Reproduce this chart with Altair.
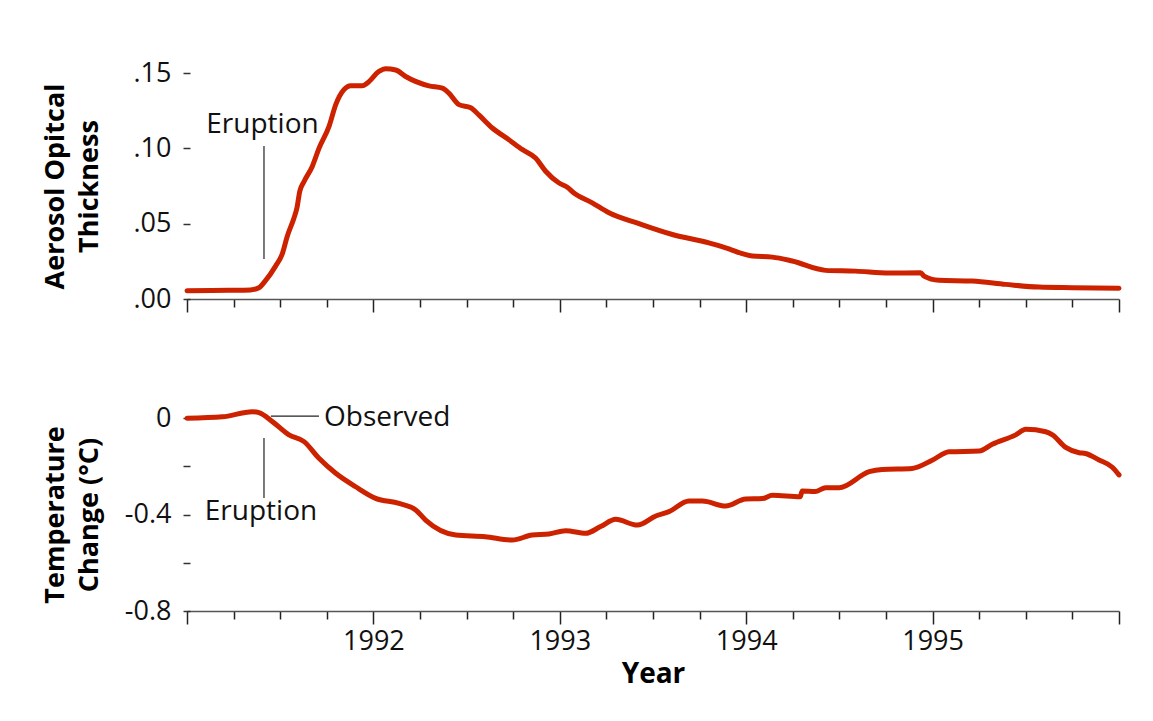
import json
import altair as alt
import pandas as pd

# ---------------- data ----------------
aod_year = [1991.0, 1991.22, 1991.34, 1991.386, 1991.42, 1991.476, 1991.51, 1991.538,
            1991.574, 1991.59, 1991.605, 1991.628, 1991.672, 1991.708, 1991.762, 1991.798,
            1991.842, 1991.878, 1991.94, 1991.967, 1992.03, 1992.066, 1992.12, 1992.173,
            1992.298, 1992.37, 1992.405, 1992.459, 1992.522, 1992.567, 1992.638, 1992.727,
            1992.8, 1992.87, 1992.924, 1992.996, 1993.04, 1993.076, 1993.174, 1993.264,
            1993.425, 1993.604, 1993.8, 1993.89, 1994.033, 1994.14, 1994.247, 1994.426,
            1994.587, 1994.766, 1994.936, 1994.954, 1995.034, 1995.213, 1995.392, 1995.571,
            1995.75, 1996.0]
aod_value = [0.0055, 0.0058, 0.006, 0.0075, 0.012, 0.022, 0.0296, 0.0417,
             0.0538, 0.0605, 0.0715, 0.078, 0.088, 0.100, 0.1146, 0.129,
             0.1389, 0.1415, 0.1415, 0.1433, 0.151, 0.1528, 0.152, 0.1477,
             0.1415, 0.140, 0.1366, 0.129, 0.127, 0.122, 0.1135, 0.1057,
             0.0991, 0.0936, 0.0848, 0.077, 0.0742, 0.0704, 0.0638, 0.0572,
             0.0500, 0.0428, 0.0373, 0.034, 0.0285, 0.0278, 0.0252, 0.019,
             0.0185, 0.0172, 0.0174, 0.0152, 0.0124, 0.0119, 0.0097, 0.0079,
             0.0075, 0.0071]

temp_year = [1991.0, 1991.19, 1991.35, 1991.386, 1991.458, 1991.547, 1991.628, 1991.708,
             1991.798, 1991.905, 1992.012, 1992.137, 1992.227, 1992.28, 1992.442, 1992.6,
             1992.745, 1992.852, 1992.942, 1993.031, 1993.139, 1993.219, 1993.3, 1993.416,
             1993.515, 1993.586, 1993.693, 1993.765, 1993.89, 1993.997, 1994.087, 1994.14,
             1994.29, 1994.3, 1994.37, 1994.426, 1994.498, 1994.66, 1994.73, 1994.89,
             1995.0, 1995.088, 1995.25, 1995.32, 1995.446, 1995.5, 1995.607, 1995.643,
             1995.714, 1995.786, 1995.82, 1995.893, 1995.964, 1996.0]
temp_value = [-0.001, 0.005, 0.026, 0.022, -0.015, -0.07, -0.098, -0.167,
              -0.229, -0.285, -0.333, -0.354, -0.381, -0.423, -0.485, -0.492,
              -0.506, -0.485, -0.481, -0.467, -0.478, -0.45, -0.42, -0.444,
              -0.406, -0.388, -0.344, -0.344, -0.365, -0.336, -0.334, -0.32,
              -0.326, -0.303, -0.305, -0.289, -0.289, -0.222, -0.213, -0.209,
              -0.174, -0.14, -0.137, -0.109, -0.07, -0.047, -0.057, -0.07,
              -0.122, -0.144, -0.147, -0.174, -0.204, -0.236]

aod_ticks = [0, 0.025, 0.05, 0.075, 0.1, 0.125, 0.15]
aod_labelled = [0, 0.05, 0.1, 0.15]
temp_ticks = [0, -0.2, -0.4, -0.6, -0.8]
temp_labelled = [0, -0.4, -0.8]
x_ticks = [1991 + 0.25 * i for i in range(21)]
x_labelled = [1992, 1993, 1994, 1995]

eruption_year = 1991.413
# annotation anchors (data coordinates)
top_rule = pd.DataFrame({"x": [eruption_year], "y": [0.0266], "y2": [0.1016]})
top_text = pd.DataFrame({"x": [1991.405], "y": [0.1104], "t": ["Eruption"]})
bot_vrule = pd.DataFrame({"x": [eruption_year], "y": [-0.083], "y2": [-0.332]})
bot_hrule = pd.DataFrame({"x": [1991.45], "x2": [1991.708], "y": [0.008]})
bot_text1 = pd.DataFrame({"x": [1991.397], "y": [-0.423], "t": ["Eruption"]})
bot_text2 = pd.DataFrame({"x": [1991.735], "y": [-0.033], "t": ["Observed"]})

aod_df = pd.DataFrame({"year": aod_year, "value": aod_value})
temp_df = pd.DataFrame({"year": temp_year, "value": temp_value})

RED = "#cc2200"
FONT = "Open Sans"
W = 932
H_TOP = 226
H_BOT = 193

xscale = alt.Scale(domain=[1991, 1996], nice=False, zero=False)
tick_cond = {"condition": {"test": "datum.value % 1 === 0", "value": 13}, "value": 8}


def x_axis(labels):
    common = dict(values=x_ticks, tickSize=tick_cond, tickColor="#222", tickWidth=1.5,
                  domainColor="#555", domainWidth=1.5, grid=False, labelOverlap=False,
                  labelFlush=False)
    if labels:
        return alt.Axis(labelExpr="indexof(%s, datum.value) >= 0 ? format(datum.value, 'd') : ''"
                        % json.dumps(x_labelled),
                        title="Year", titleFontWeight="bold", titleFontSize=28,
                        titlePadding=6, labelFontSize=27, labelPadding=4,
                        labelColor="#111", **common)
    return alt.Axis(labels=False, title=None, **common)


def y_axis(ticks, expr, title, height):
    return alt.Axis(values=ticks, labelExpr=expr, title=title, domain=False,
                    tickSize=7, offset=-3, tickColor="#333", tickWidth=1.5,
                    labelPadding=12, labelFontSize=27, labelColor="#111",
                    titleFontSize=27, titleFontWeight="bold", titleLineHeight=34,
                    titleX=-121, titleY=height / 2, grid=False, labelOverlap=False,
                    labelFlush=False)


aod_expr = ("indexof(%s, datum.value) >= 0 ? replace(format(datum.value, '.2f'), '0.', '.') : ''"
            % json.dumps(aod_labelled))
temp_expr = ("indexof(%s, datum.value) >= 0 ? replace(format(datum.value, '.1~f'), '\u2212', '-') : ''"
             % json.dumps(temp_labelled))

top_line = alt.Chart(aod_df).mark_line(
    color=RED, strokeWidth=5, interpolate="monotone", strokeCap="round", clip=False
).encode(
    x=alt.X("year:Q", scale=xscale, axis=x_axis(False)),
    y=alt.Y("value:Q", scale=alt.Scale(domain=[0, 0.15], nice=False),
            axis=y_axis(aod_ticks, aod_expr, ["Aerosol Opitcal", "Thickness"], H_TOP)),
)
top_r = alt.Chart(top_rule).mark_rule(color="#222", strokeWidth=1.2).encode(
    x="x:Q", y="y:Q", y2="y2:Q")
top_t = alt.Chart(top_text).mark_text(fontSize=28, font=FONT, baseline="alphabetic",
                                      align="center", color="#111").encode(
    x="x:Q", y="y:Q", text="t:N")
top = alt.layer(top_line, top_r, top_t).properties(width=W, height=H_TOP)

bot_line = alt.Chart(temp_df).mark_line(
    color=RED, strokeWidth=5, interpolate="monotone", strokeCap="round", clip=False
).encode(
    x=alt.X("year:Q", scale=xscale, axis=x_axis(True)),
    y=alt.Y("value:Q", scale=alt.Scale(domain=[-0.8, 0], nice=False, zero=False),
            axis=y_axis(temp_ticks, temp_expr, ["Temperature", "Change (\u00b0C)"], H_BOT)),
)
bot_vr = alt.Chart(bot_vrule).mark_rule(color="#222", strokeWidth=1.2).encode(
    x="x:Q", y="y:Q", y2="y2:Q")
bot_hr = alt.Chart(bot_hrule).mark_rule(color="#222", strokeWidth=1.2).encode(
    x="x:Q", x2="x2:Q", y="y:Q")
bot_t1 = alt.Chart(bot_text1).mark_text(fontSize=28, font=FONT, baseline="alphabetic",
                                        align="center", color="#111").encode(
    x="x:Q", y="y:Q", text="t:N")
bot_t2 = alt.Chart(bot_text2).mark_text(fontSize=28, font=FONT, baseline="alphabetic",
                                        align="left", color="#111").encode(
    x="x:Q", y="y:Q", text="t:N")
bottom = alt.layer(bot_line, bot_vr, bot_hr, bot_t1, bot_t2).properties(width=W, height=H_BOT)

chart = alt.vconcat(top, bottom, spacing=88).properties(
    padding={"left": 33, "top": 50, "right": 5, "bottom": 5}
).configure_view(stroke=None).configure_axis(
    labelFont=FONT, titleFont=FONT
)

chart.save("out.html", embed_options={"renderer": "svg", "actions": False})
